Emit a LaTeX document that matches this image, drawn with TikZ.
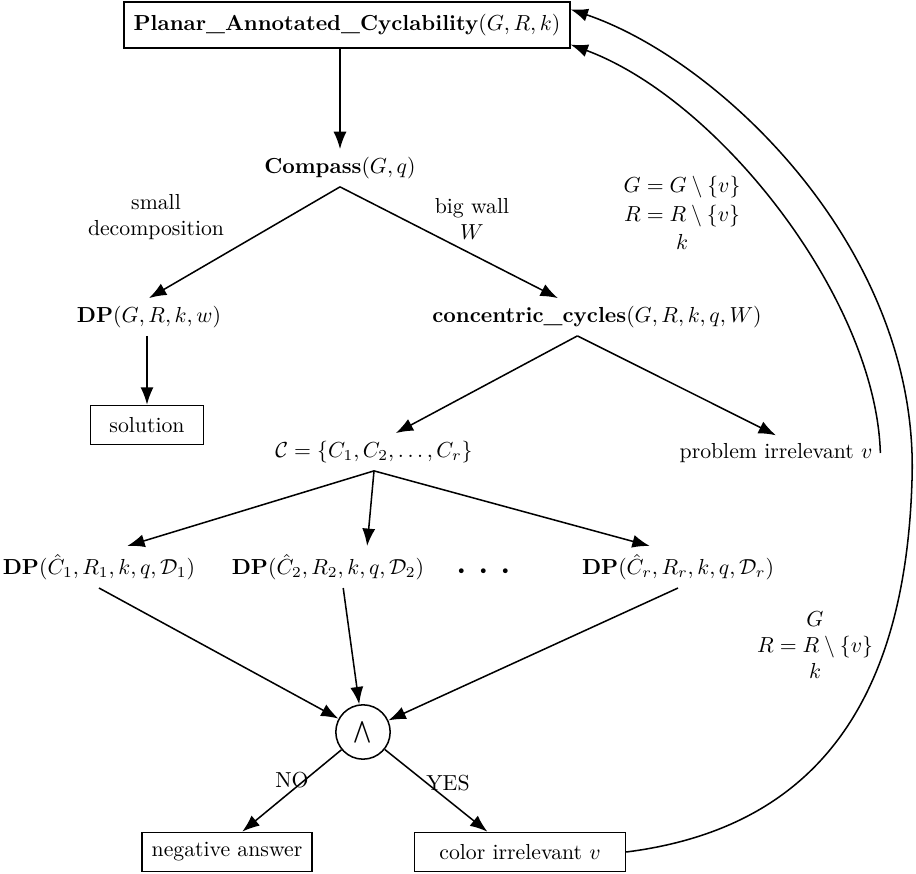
\documentclass[tikz,border=0pt]{standalone}
\usepackage{amsmath}
\usepackage{amssymb}
\usetikzlibrary{arrows.meta}
\begin{document}
\begin{tikzpicture}[x=0.46pt,y=-0.46pt,>={Latex[length=8pt,width=6pt]},line width=0.7pt]
	\tikzstyle{qi}=[draw,rectangle,inner xsep=4pt,inner ysep=4.5pt]
	\tikzstyle{lab}=[align=center]

	\useasboundingbox (0,0) rectangle (916,874);

	\node[qi,minimum width=205pt,minimum height=21pt] (PAC) at (347,25)
		{\textbf{Planar\_Annotated\_Cyclability}$(G,R,k)$};
	\node (CMP) at (340,168) {\textbf{Compass}$(G,q)$};

	\node[lab] at (156,217) {small\\decomposition};
	\node[lab] at (472,219) {big wall\\$W$};

	\node (DPW) at (149,317) {\textbf{DP}$(G,R,k,w)$};
	\node (CC) at (597,317) {\textbf{concentric\_cycles}$(G,R,k,q,W)$};

	\node[qi,minimum width=52pt,minimum height=18pt] (SOL) at (147,425) {solution};
	\node (CS) at (374,452) {$\mathcal{C}=\{C_1,C_2,\ldots,C_r\}$};
	\node (PIV) at (776,453) {problem irrelevant $v$};

	\node[lab] (UPD1) at (682,213) {$G=G\setminus\{v\}$\\[1pt]$R=R\setminus\{v\}$\\[1pt]$k$};

	\node (DP1) at (99,567) {\textbf{DP}$(\hat{C}_1,R_1,k,q,\mathcal{D}_1)$};
	\node (DP2) at (328,567) {\textbf{DP}$(\hat{C}_2,R_2,k,q,\mathcal{D}_2)$};
	\node (DOTS) at (484,572) {{\huge$\cdot$}\hspace{4.5pt}{\huge$\cdot$}\hspace{4.5pt}{\huge$\cdot$}};
	\node (DPR) at (678,567) {\textbf{DP}$(\hat{C}_r,R_r,k,q,\mathcal{D}_r)$};

	\node[lab] (UPD2) at (815,645) {$G$\\$R=R\setminus\{v\}$\\$k$};

	\node[circle,draw,minimum size=25pt,inner sep=0pt] (AND) at (363,732) {$\bigwedge$};
	\node at (292,780) {NO};
	\node at (448,783) {YES};

	\node[qi,minimum width=78pt,minimum height=18pt] (NEG) at (227,852) {negative answer};
	\node[qi,minimum width=97pt,minimum height=18pt] (COL) at (520,852) {color irrelevant $v$};

	\path (PAC.south -| CMP.north) edge[->] (CMP.north);
	\path (CMP.south) edge[->] (DPW.north);
	\path (CMP.south) edge[->] ([xshift=-18pt]CC.north);
	\path (DPW.south -| SOL.north) edge[->] (SOL.north);

	\path ([xshift=-9pt]CC.south) edge[->] ([xshift=10pt]CS.north);
	\path ([xshift=-9pt]CC.south) edge[->] (PIV.north);

	\path (CS.south) edge[->] ([xshift=13pt]DP1.north);
	\path (CS.south) edge[->] ([xshift=18pt]DP2.north);
	\path (CS.south) edge[->] ([xshift=-13pt]DPR.north);

	\path (DP1.south) edge[->] (AND);
	\path ([xshift=7pt]DP2.south) edge[->] (AND);
	\path (DPR.south) edge[->] (AND);

	\path (AND) edge[->] ([xshift=7pt]NEG.north);
	\path (AND) edge[->] ([xshift=-15pt]COL.north);

	\draw[->] (PIV.east) .. controls (876,300) and (720,100) .. (PAC.-5);
	\draw[->] (COL.east) .. controls (800,830) and (905,720) .. (912,480)
		.. controls (920,250) and (720,60) .. (PAC.4);
\end{tikzpicture}
\end{document}
